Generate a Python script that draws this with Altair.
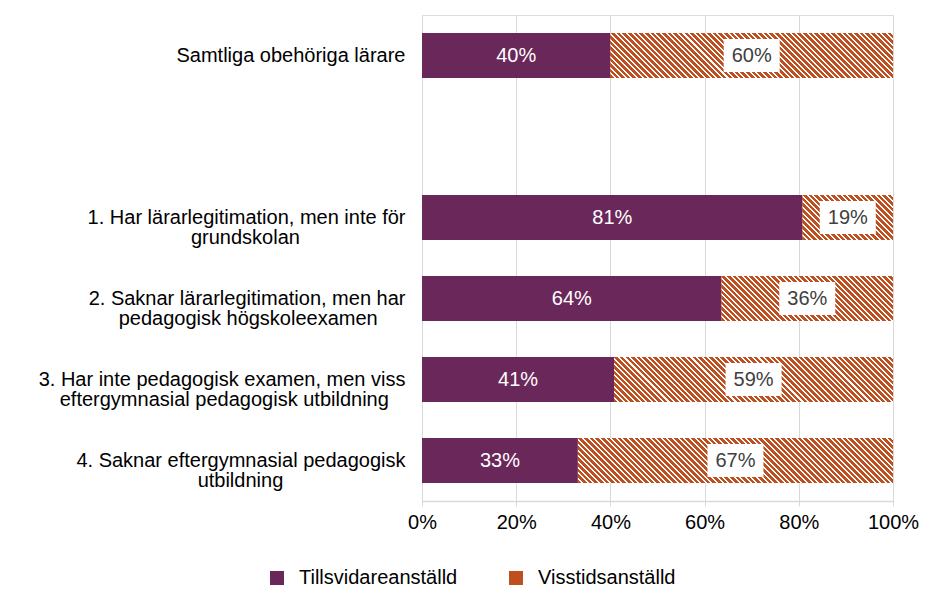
import altair as alt
import pandas as pd

# ---------------- data ----------------
label_lines = [
    ["Samtliga obehöriga lärare"],
    ["1. Har lärarlegitimation, men inte för", "grundskolan"],
    ["2. Saknar lärarlegitimation, men har", "pedagogisk högskoleexamen"],
    ["3. Har inte pedagogisk examen, men viss", "eftergymnasial pedagogisk utbildning"],
    ["4. Saknar eftergymnasial pedagogisk", "utbildning"],
]
tills = [40.0, 80.8, 63.6, 40.8, 33.1]   # Tillsvidareanställd, %
viss = [60.0, 19.2, 36.4, 59.2, 66.9]    # Visstidsanställd, %
series = ["Tillsvidareanställd", "Visstidsanställd"]

# ---------------- style ----------------
FONT = "Liberation Sans, Arial, Helvetica, sans-serif"
PURPLE = "#6A285A"
ORANGE = "#BF4F1E"
GRID = "#D9D9D9"
PLOT_W, PLOT_H = 471, 486
BAR_H = 45
second_line_pad = [0, 19, 5, 3, 22]   # no-break spaces that centre the 2nd line under the 1st
NBSP = "\u00a0"
ZWSP = "\u200b"   # keeps the trailing no-break spaces from being trimmed

cats = []
for lines, pad in zip(label_lines, second_line_pad):
    if len(lines) > 1:
        lines = [lines[0], lines[1] + NBSP * pad + ZWSP]
    cats.append("|".join(lines))
SPACER = ""
domain = [cats[0], SPACER] + cats[1:]

rows = []
for c, t, v in zip(cats, tills, viss):
    rows.append({"cat": c, "series": series[0], "sidx": 0, "value": t})
    rows.append({"cat": c, "series": series[1], "sidx": 1, "value": v})
df = pd.DataFrame(rows)

base = alt.Chart(df).transform_stack(
    stack="value", groupby=["cat"], as_=["x0", "x1"],
    sort=[alt.SortField("sidx", order="ascending")],
).transform_calculate(
    mid="(datum.x0 + datum.x1) / 2",
    label="format(datum.value / 100, '.0%')",
)

x_scale = alt.Scale(domain=[0, 100], nice=False, zero=True)
x_axis = alt.Axis(
    title=None, values=[0, 20, 40, 60, 80, 100], labelExpr="datum.value + '%'",
    grid=True, gridColor=GRID, gridWidth=1, domainColor=GRID, domainWidth=1.5,
    tickColor=GRID, tickSize=5, labelFontSize=20, labelFont=FONT, labelColor="#000000",
    labelPadding=6, labelFlush=False,
)
y_enc = alt.Y(
    "cat:N",
    scale=alt.Scale(domain=domain, paddingInner=0.444, paddingOuter=0.222),
    axis=alt.Axis(
        title=None, domain=False, ticks=False, grid=False,
        labelExpr="split(datum.value, '|')", labelAlign="right", labelBaseline="middle",
        labelPadding=17, labelFontSize=20, labelFont=FONT, labelColor="#000000",
        labelLineHeight=20, labelLimit=600,
    ),
)

bars = base.mark_bar(size=BAR_H).encode(
    x=alt.X("x0:Q", scale=x_scale, axis=x_axis),
    x2="x1:Q",
    y=y_enc,
    color=alt.Color(
        "series:N",
        scale=alt.Scale(domain=series, range=[PURPLE, ORANGE]),
        legend=alt.Legend(
            title=None, orient="none", legendX=-155, legendY=553, direction="horizontal",
            symbolType="square", symbolSize=196, symbolStrokeWidth=0,
            labelFontSize=20, labelFont=FONT, labelColor="#000000", labelOffset=12,
            columnPadding=48, padding=0,
        ),
    ),
)


def hatch(width_px, height_px, period=5.6, white_frac=0.36):
    w, h = float(width_px), float(height_px)
    s = (1 / h + 1 / w) / (1 / h ** 2 + 1 / w ** 2)
    n = max(1, round((w + h) / period))
    stops = []
    for k in range(n):
        a = k / n
        b = (k + 1 - white_frac) / n
        e = (k + 1) / n
        stops += [
            alt.GradientStop(offset=a, color=ORANGE),
            alt.GradientStop(offset=b, color=ORANGE),
            alt.GradientStop(offset=b, color="#FFFFFF"),
            alt.GradientStop(offset=e, color="#FFFFFF"),
        ]
    return alt.LinearGradient(gradient="linear", x1=0, y1=1, x2=s / h, y2=1 - s / w, stops=stops)


hatch_layers = []
for c, v in zip(cats, viss):
    grad = hatch(v / 100 * PLOT_W, BAR_H)
    hatch_layers.append(
        base.transform_filter(alt.FieldEqualPredicate(field="cat", equal=c))
        .transform_filter("datum.sidx == 1")
        .mark_bar(size=BAR_H, fill=grad)
        .encode(x=alt.X("x0:Q", scale=x_scale, axis=x_axis), x2="x1:Q", y=y_enc)
    )

BOX = "M-1,-0.59H1V0.59H-1Z"
boxes = base.transform_filter("datum.sidx == 1").mark_point(
    shape=BOX, size=3136, filled=True, color="#FFFFFF", opacity=1, strokeWidth=0
).encode(x=alt.X("mid:Q", scale=x_scale, axis=x_axis), y=y_enc)

txt_p = base.transform_filter("datum.sidx == 0").mark_text(
    fontSize=20, font=FONT, color="#FFFFFF", baseline="middle"
).encode(x=alt.X("mid:Q", scale=x_scale, axis=x_axis), y=y_enc, text="label:N")

txt_o = base.transform_filter("datum.sidx == 1").mark_text(
    fontSize=20, font=FONT, color="#404040", baseline="middle"
).encode(x=alt.X("mid:Q", scale=x_scale, axis=x_axis), y=y_enc, text="label:N")

chart = alt.layer(bars, *hatch_layers, boxes, txt_p, txt_o).properties(
    width=PLOT_W, height=PLOT_H,
    autosize=alt.AutoSizeParams(type="none"),
    padding={"left": 414, "top": 7, "right": 26, "bottom": 86},
).configure_view(stroke=GRID, strokeWidth=1).configure(background="#FFFFFF")

chart.save("out.html", embed_options={"renderer": "svg", "actions": False})
